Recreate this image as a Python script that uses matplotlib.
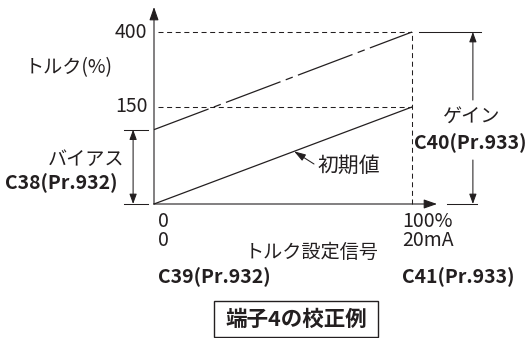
import numpy as np
import matplotlib
matplotlib.use("Agg")
import matplotlib.pyplot as plt
from matplotlib.patches import Rectangle

plt.rcParams['font.family'] = ['Noto Sans CJK JP', 'DejaVu Sans']
plt.rcParams['lines.scale_dashes'] = False

# -------------------------
# Data
# -------------------------
signal_pct = [0, 100]            # torque setting signal (%)
torque_default = [0, 150]        # initial value line (%)
torque_calibrated = [115, 400]   # bias -> gain (%)
y_ticks = [150, 400]
y_tick_labels = ['150', '400']
x_tick_labels = ['0\n0', '100%\n20mA']
x_param_labels = ['C39(Pr.932)', 'C41(Pr.933)']

INK = '#231f20'
W, H = 527, 338
FS = 14      # latin text
FJ = 13.8    # japanese text


def px(x, y):
    # pixel (from top-left) -> figure fraction
    return x / W, 1 - y / H


# schematic (piecewise) torque scale
def fwd(y):
    y = np.asarray(y, dtype=float)
    return np.where(y <= 150, y * 97 / 150, 97 + (y - 150) * 75 / 250)


def inv(s):
    s = np.asarray(s, dtype=float)
    return np.where(s <= 97, s * 150 / 97, 150 + (s - 97) * 250 / 75)


fig = plt.figure(figsize=(W / 100, H / 100), dpi=100)
ax = fig.add_axes([0, 0, 1, 1])
ax.set_yscale('function', functions=(fwd, inv))
ax.set_xlim(-154 / 2.58, (W - 154) / 2.58)
ax.set_ylim(float(inv(-(H - 204))), float(inv(204)))
ax.axis('off')

# axes with arrows
arrow_kw = dict(arrowstyle='-|>,head_length=0.8,head_width=0.28', color=INK,
                lw=0.8, shrinkA=0, shrinkB=0)
ax.annotate('', xy=(0, float(inv(197))), xytext=(0, 0), arrowprops=arrow_kw)
ax.annotate('', xy=(109.7, 0), xytext=(0, 0), arrowprops=arrow_kw)

# guide lines
for yv in y_ticks:
    ax.plot([1.5, signal_pct[1]], [yv, yv], color=INK, lw=0.75,
            dashes=(3.6, 2.6))
ax.plot([signal_pct[1]] * 2, [0, y_ticks[1]], color=INK, lw=0.75,
        dashes=(3.6, 2.6))

# curves
ax.plot(signal_pct, torque_default, color=INK, lw=0.9)
ax.plot(signal_pct, torque_calibrated, color=INK, lw=0.9,
        dashes=(42, 4, 5.4, 4))

# y tick labels
for yv, lab in zip(y_ticks, y_tick_labels):
    ax.text(-2.5, yv, lab, ha='right', va='center', fontsize=FS, color=INK)

# bias dimension
bias = torque_calibrated[0]
for yv in [0, bias]:
    ax.plot([-11.6, -2.3], [yv, yv], color=INK, lw=0.75)
ax.annotate('', xy=(-8.1, bias), xytext=(-8.1, 0),
            arrowprops=dict(arrowstyle='<|-|>,head_length=0.6,head_width=0.22',
                            color=INK, lw=0.75, shrinkA=0, shrinkB=0))

# gain dimension
gain = torque_calibrated[1]
ax.plot([102.7, 126.7], [gain, gain], color=INK, lw=0.75)
ax.plot([113.6, 125.2], [0, 0], color=INK, lw=0.75)
head = dict(arrowstyle='-|>,head_length=0.6,head_width=0.22', color=INK,
            lw=0.75, shrinkA=0, shrinkB=0)
ax.annotate('', xy=(123.6, gain), xytext=(123.6, float(inv(104))), arrowprops=head)
ax.annotate('', xy=(123.6, 0), xytext=(123.6, float(inv(44))), arrowprops=head)

# initial value pointer
ax.annotate('', xy=(54.3, 54.3 * 1.5), xytext=px(314, 164),
            textcoords='figure fraction',
            arrowprops=dict(arrowstyle='-|>,head_length=0.7,head_width=0.22',
                            color=INK, lw=0.75, shrinkA=0, shrinkB=0,
                            mutation_scale=10))
fig.text(*px(318, 166), '初期値', ha='left', va='center', fontsize=15, color=INK)

# texts
fig.text(*px(69, 68), 'トルク(%)', ha='center', va='center', fontsize=FJ, color=INK)
fig.text(*px(124, 160), 'バイアス', ha='right', va='center', fontsize=FJ, color=INK)
fig.text(*px(117, 183), 'C38(Pr.932)', ha='right', va='center', fontsize=FS,
         fontweight='bold', color=INK)
fig.text(*px(472, 117), 'ゲイン', ha='center', va='center', fontsize=FJ, color=INK)
fig.text(*px(470, 143), 'C40(Pr.933)', ha='center', va='center', fontsize=FS,
         fontweight='bold', color=INK)

for xv, lab, par in zip(signal_pct, x_tick_labels, x_param_labels):
    x0 = 158 + xv * 2.44
    fig.text(*px(x0, 231), lab, ha='left', va='center', fontsize=FS,
             color=INK, linespacing=0.85)
    fig.text(*px(x0, 277), par, ha='left', va='center', fontsize=FS,
             fontweight='bold', color=INK)

fig.text(*px(312, 252), 'トルク設定信号', ha='center', va='center', fontsize=FJ,
         color=INK)

# caption box
x0, y0 = px(214, 337)
x1, y1 = px(378, 301)
fig.patches.append(Rectangle((x0, y0), x1 - x0, y1 - y0, transform=fig.transFigure,
                             fill=False, edgecolor=INK, lw=1.0))
fig.text(*px(296, 319), '端子4の校正例', ha='center', va='center', fontsize=15.5,
         fontweight='bold', color=INK)

fig.savefig('out.png', dpi=100)
